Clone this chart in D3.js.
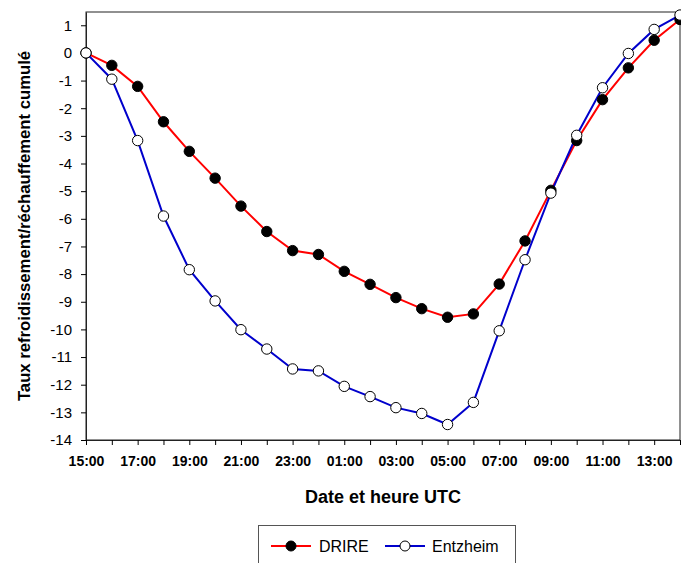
<!DOCTYPE html>
<html><head><meta charset="utf-8">
<script src="https://cdn.jsdelivr.net/npm/d3@7"></script>
<style>body{margin:0;background:#fff;} svg{display:block;font-family:"Liberation Sans",Arial,sans-serif;}</style>
</head><body>
<script>
const hours = ["15:00","16:00","17:00","18:00","19:00","20:00","21:00","22:00","23:00","00:00","01:00","02:00","03:00","04:00","05:00","06:00","07:00","08:00","09:00","10:00","11:00","12:00","13:00","14:00"];
const drire = [0,-0.45,-1.21,-2.49,-3.56,-4.53,-5.54,-6.46,-7.15,-7.29,-7.9,-8.37,-8.85,-9.25,-9.56,-9.44,-8.36,-6.8,-4.97,-3.17,-1.69,-0.54,0.46,1.21];
const entzheim = [0,-0.95,-3.17,-5.9,-7.84,-8.97,-10.01,-10.71,-11.43,-11.5,-12.06,-12.43,-12.83,-13.04,-13.44,-12.64,-10.05,-7.48,-5.07,-2.98,-1.26,-0.02,0.85,1.37];
const yTicks = [1,0,-1,-2,-3,-4,-5,-6,-7,-8,-9,-10,-11,-12,-13,-14];
const xLabels = ["15:00","17:00","19:00","21:00","23:00","01:00","03:00","05:00","07:00","09:00","11:00","13:00"];

const W=681,H=563;
const L=86,R=680,T=12,B=440;
const svg=d3.select("body").append("svg").attr("width",W).attr("height",H);
const x=d3.scalePoint().domain(hours).range([L,R]);
const y=d3.scaleLinear().domain([-14,1.48]).range([B,T]);

// frame
svg.append("rect").attr("x",L).attr("y",T).attr("width",R-L).attr("height",B-T)
  .attr("fill","none").attr("stroke","#222").attr("stroke-width",1);

const yAxis=svg.append("g").attr("transform",`translate(${L},0)`)
  .call(d3.axisLeft(y).tickValues(yTicks).tickSize(5).tickSizeOuter(0).tickFormat(d=>d));
yAxis.select(".domain").attr("stroke","#222");
yAxis.selectAll("text").attr("font-size",15).attr("fill","#000").attr("dx","-6").attr("font-family","Liberation Sans, Arial, sans-serif");

const xAxis=svg.append("g").attr("transform",`translate(0,${B})`)
  .call(d3.axisBottom(x).tickSize(5).tickSizeOuter(0).tickFormat(d=>xLabels.includes(d)?d:""));
xAxis.select(".domain").attr("stroke","#222");
xAxis.selectAll("text").attr("font-size",14).attr("font-weight","bold").attr("fill","#000").attr("y",26).attr("dy",0).attr("font-family","Liberation Sans, Arial, sans-serif");

const series=[{name:"DRIRE",vals:drire,color:"#ff0000",fill:"#000"},{name:"Entzheim",vals:entzheim,color:"#0000cc",fill:"#fff"}];
const line=d3.line().x((d,i)=>x(hours[i])).y(d=>y(d));
series.forEach(s=>{
  svg.append("path").datum(s.vals).attr("d",line).attr("fill","none").attr("stroke",s.color).attr("stroke-width",2);
});
series.forEach(s=>{
  svg.append("g").selectAll("circle").data(s.vals).join("circle")
    .attr("cx",(d,i)=>x(hours[i])).attr("cy",d=>y(d)).attr("r",5.2)
    .attr("fill",s.fill).attr("stroke","#000").attr("stroke-width",1);
});

// titles
svg.append("text").attr("x",(L+R)/2).attr("y",503).attr("text-anchor","middle")
  .attr("font-size",18).attr("font-weight","bold").text("Date et heure UTC");
svg.append("text").attr("transform",`translate(30,${(T+B)/2}) rotate(-90)`).attr("text-anchor","middle")
  .attr("font-size",16.7).attr("font-weight","bold").text("Taux refroidissement/réchauffement cumulé");

// legend
const lg=svg.append("g");
lg.append("rect").attr("x",258.5).attr("y",525.5).attr("width",257).attr("height",50).attr("fill","#fff").attr("stroke","#555").attr("stroke-width",1);
const items=[{s:series[0],x0:271,tx:319},{s:series[1],x0:385,tx:432}];
items.forEach(it=>{
  const ly=546;
  lg.append("line").attr("x1",it.x0).attr("x2",it.x0+40).attr("y1",ly).attr("y2",ly).attr("stroke",it.s.color).attr("stroke-width",2);
  lg.append("circle").attr("cx",it.x0+20).attr("cy",ly).attr("r",5).attr("fill",it.s.fill).attr("stroke","#000");
  lg.append("text").attr("x",it.tx).attr("y",ly+6).attr("font-size",16).attr("fill","#000").text(it.s.name);
});
</script>
</body></html>
